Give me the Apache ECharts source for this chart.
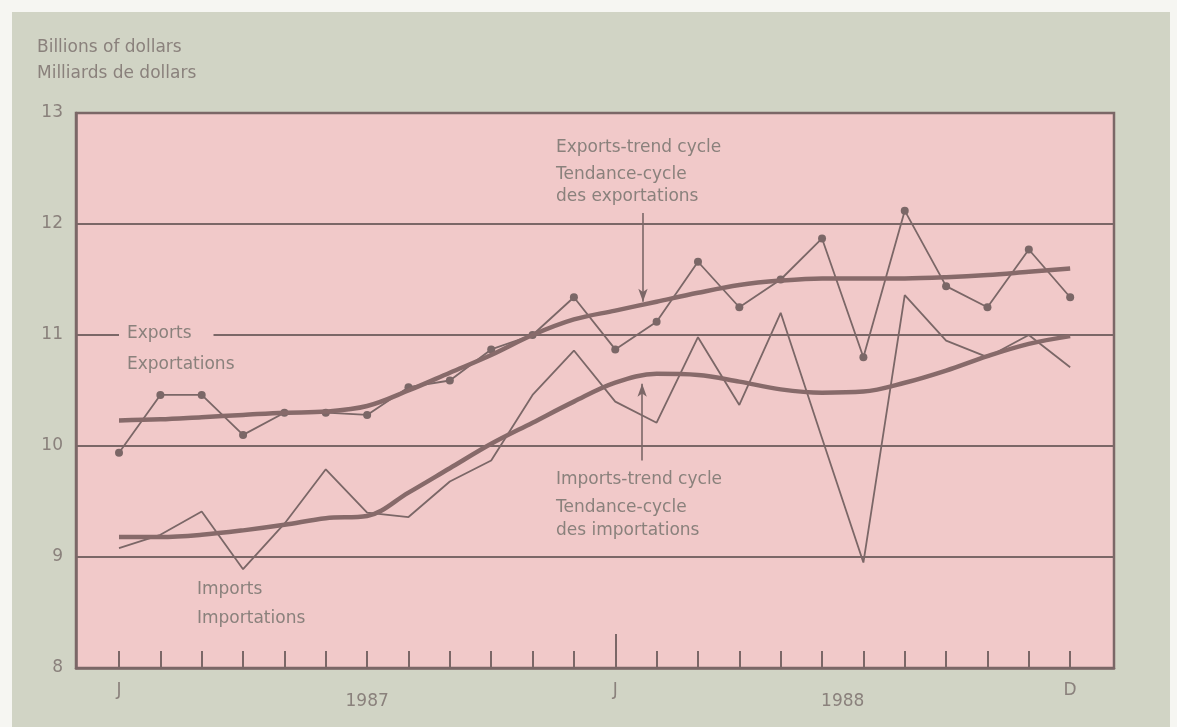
<!DOCTYPE html>
<html>
<head>
<meta charset="utf-8">
<script src="https://cdn.jsdelivr.net/npm/echarts@6/dist/echarts.min.js"></script>
<style>
html,body{margin:0;padding:0;background:#f6f6f2;}
#chart{width:1177px;height:727px;}
</style>
</head>
<body>
<div id="chart"></div>
<script>
// Monthly, January 1987 to December 1988
const months = ['J','F','M','A','M','J','J','A','S','O','N','D','J','F','M','A','M','J','J','A','S','O','N','D'];
const years = ['1987','1988'];
const yTicks = [8, 9, 10, 11, 12, 13];

const exportsData = [9.94, 10.46, 10.46, 10.10, 10.30, 10.30, 10.28, 10.53, 10.59, 10.87, 11.00, 11.34,
                     10.87, 11.12, 11.66, 11.25, 11.50, 11.87, 10.80, 12.12, 11.44, 11.25, 11.77, 11.34];
const importsData = [9.08, 9.20, 9.41, 8.89, 9.30, 9.79, 9.40, 9.36, 9.68, 9.87, 10.46, 10.86,
                     10.40, 10.21, 10.98, 10.37, 11.20, 10.07, 8.95, 11.36, 10.95, 10.80, 11.00, 10.71];
const exportsTrend = [10.23, 10.24, 10.26, 10.28, 10.30, 10.31, 10.36, 10.50, 10.66, 10.82, 11.00, 11.14,
                      11.22, 11.30, 11.38, 11.45, 11.49, 11.51, 11.51, 11.51, 11.52, 11.54, 11.57, 11.60];
const importsTrend = [9.18, 9.18, 9.20, 9.24, 9.29, 9.35, 9.37, 9.58, 9.80, 10.02, 10.21, 10.40,
                      10.57, 10.65, 10.64, 10.58, 10.51, 10.48, 10.49, 10.57, 10.68, 10.81, 10.92, 10.99];

const pts = arr => arr.map((v, i) => [i, v]);

const INK = '#7b6767';
const TREND = '#876a6a';
const TXT = '#8a817c';
const FONT = '"DejaVu Sans", sans-serif';
const PINK = '#f1c9c9';
const TF = '17px ' + FONT;

const chart = echarts.init(document.getElementById('chart'), null, {renderer: 'canvas'});

const option = {
  backgroundColor: '#f6f6f2',
  animation: false,
  grid: {
    left: 76, right: 63, top: 113, bottom: 59,
    show: true, backgroundColor: PINK, borderColor: INK, borderWidth: 2.5
  },
  xAxis: [
    {
      type: 'value', min: -1.04, max: 24.06, z: 2,
      axisLine: {show: true, onZero: false, lineStyle: {color: INK, width: 2.5}},
      axisTick: {show: true, inside: true, length: 17, customValues: months.map((m, i) => i),
                 lineStyle: {color: INK, width: 2}},
      axisLabel: {show: true, customValues: [0, 12, 23], margin: 14,
                  formatter: v => months[Math.round(v)],
                  color: TXT, fontSize: 17, fontFamily: FONT},
      splitLine: {show: false}
    },
    {
      type: 'value', min: -1.04, max: 24.06, position: 'bottom', z: 2,
      axisLine: {show: false, onZero: false},
      axisTick: {show: true, inside: true, length: 34, customValues: [12],
                 lineStyle: {color: INK, width: 2}},
      axisLabel: {show: true, customValues: [6, 17.5], margin: 25,
                  formatter: v => years[v < 12 ? 0 : 1],
                  color: TXT, fontSize: 17, fontFamily: FONT},
      splitLine: {show: false}
    }
  ],
  yAxis: {
    type: 'value', min: yTicks[0], max: yTicks[yTicks.length - 1], interval: 1, z: 2,
    axisLine: {show: true, onZero: false, lineStyle: {color: INK, width: 2.5}},
    axisTick: {show: false},
    axisLabel: {color: TXT, fontSize: 17, fontFamily: FONT, margin: 13},
    splitLine: {show: true, lineStyle: {color: INK, width: 2}}
  },
  graphic: {
    elements: [
      {type: 'rect', z: -100, silent: true,
       shape: {x: 12, y: 12, width: 1158, height: 730},
       style: {fill: '#d1d4c5'}},
      {type: 'text', x: 37, y: 48, z: 100,
       style: {text: 'Billions of dollars', fill: TXT, font: TF, verticalAlign: 'middle'}},
      {type: 'text', x: 37, y: 74, z: 100,
       style: {text: 'Milliards de dollars', fill: TXT, font: TF, verticalAlign: 'middle'}},
      {type: 'text', x: 119, y: 334, z: 100,
       style: {text: 'Exports', fill: TXT, font: TF, verticalAlign: 'middle',
               backgroundColor: PINK, padding: [3, 22, 3, 8]}},
      {type: 'text', x: 127, y: 365, z: 100,
       style: {text: 'Exportations', fill: TXT, font: TF, verticalAlign: 'middle'}},
      {type: 'text', x: 197, y: 590, z: 100,
       style: {text: 'Imports', fill: TXT, font: TF, verticalAlign: 'middle'}},
      {type: 'text', x: 197, y: 619, z: 100,
       style: {text: 'Importations', fill: TXT, font: TF, verticalAlign: 'middle'}},
      {type: 'text', x: 556, y: 148, z: 100,
       style: {text: 'Exports-trend cycle', fill: TXT, font: TF, verticalAlign: 'middle'}},
      {type: 'text', x: 556, y: 175, z: 100,
       style: {text: 'Tendance-cycle', fill: TXT, font: TF, verticalAlign: 'middle'}},
      {type: 'text', x: 556, y: 197, z: 100,
       style: {text: 'des exportations', fill: TXT, font: TF, verticalAlign: 'middle'}},
      {type: 'text', x: 556, y: 480, z: 100,
       style: {text: 'Imports-trend cycle', fill: TXT, font: TF, verticalAlign: 'middle'}},
      {type: 'text', x: 556, y: 508, z: 100,
       style: {text: 'Tendance-cycle', fill: TXT, font: TF, verticalAlign: 'middle'}},
      {type: 'text', x: 556, y: 531, z: 100,
       style: {text: 'des importations', fill: TXT, font: TF, verticalAlign: 'middle'}}
    ]
  },
  series: [
    {
      name: 'Imports', type: 'line', data: pts(importsData), z: 3,
      symbol: 'none', lineStyle: {color: INK, width: 1.8}
    },
    {
      name: 'Exports', type: 'line', data: pts(exportsData), z: 4,
      symbol: 'circle', symbolSize: 8,
      itemStyle: {color: INK}, lineStyle: {color: INK, width: 1.8}
    },
    {
      name: 'Imports trend', type: 'line', data: pts(importsTrend), z: 5,
      symbol: 'none', smooth: 0.35, lineStyle: {color: TREND, width: 4.5},
      markLine: {
        silent: true, symbol: ['none', 'arrow'], symbolSize: [7, 13],
        label: {show: false},
        lineStyle: {color: INK, width: 1.6, type: 'solid'},
        data: [[{coord: [12.65, 9.87]}, {coord: [12.65, 10.56]}]]
      }
    },
    {
      name: 'Exports trend', type: 'line', data: pts(exportsTrend), z: 5,
      symbol: 'none', smooth: 0.35, lineStyle: {color: TREND, width: 4.5},
      markLine: {
        silent: true, symbol: ['none', 'arrow'], symbolSize: [7, 13],
        label: {show: false},
        lineStyle: {color: INK, width: 1.6, type: 'solid'},
        data: [[{coord: [12.67, 12.10]}, {coord: [12.67, 11.30]}]]
      }
    }
  ]
};
chart.setOption(option);
</script>
</body>
</html>
